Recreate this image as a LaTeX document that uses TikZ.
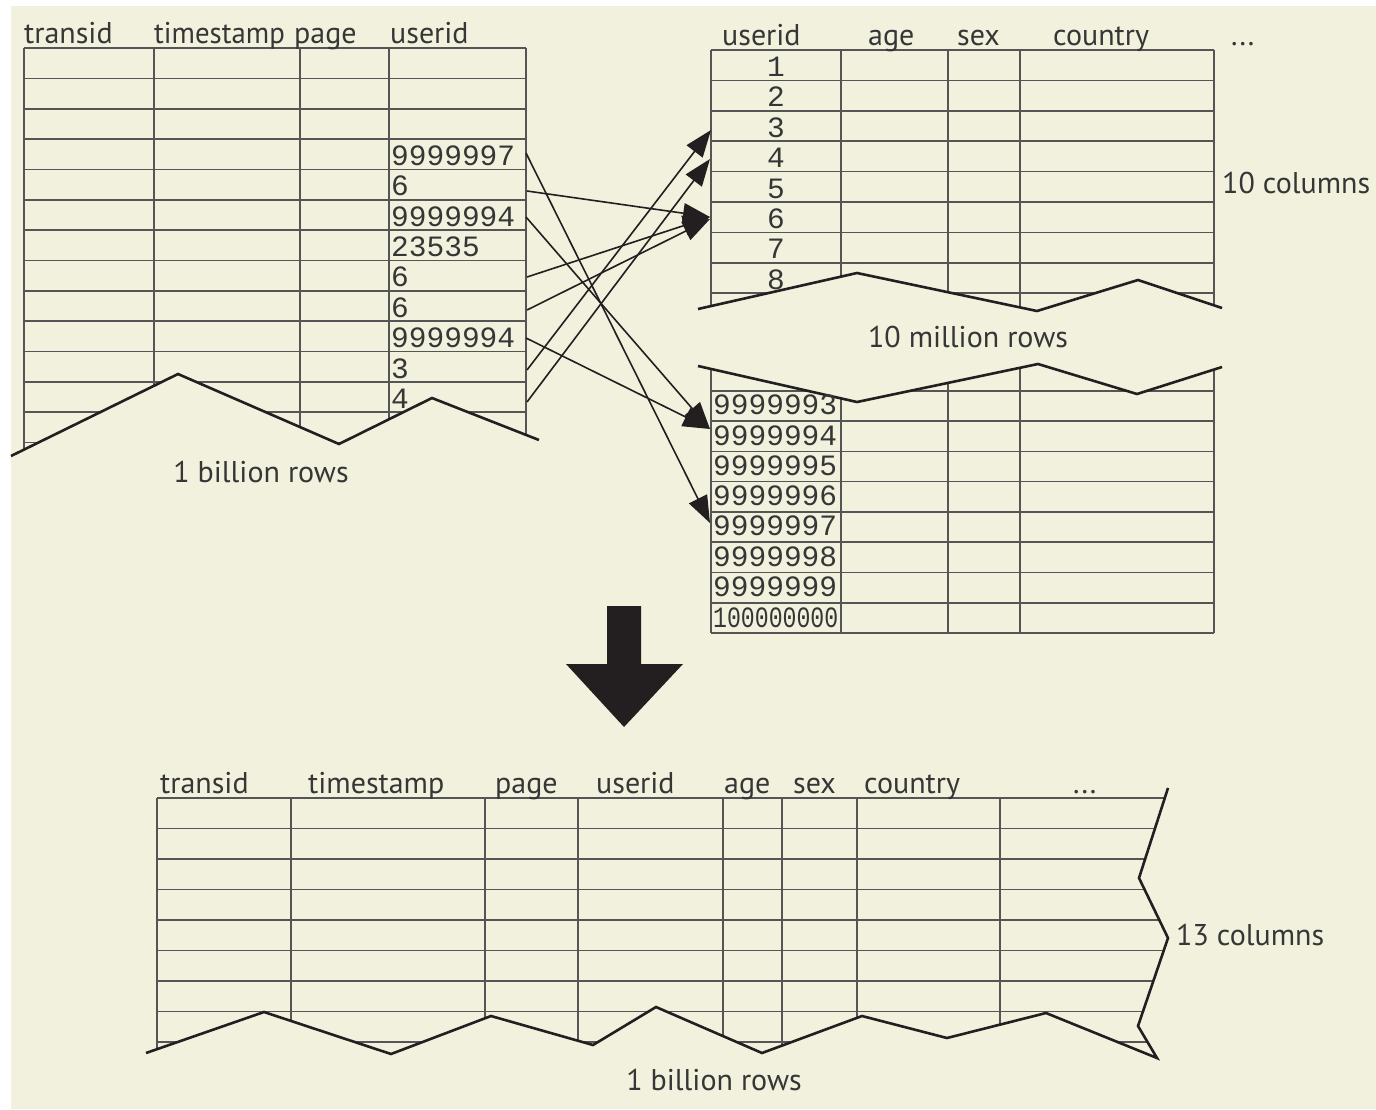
\documentclass[tikz,border=0pt]{standalone}
\usepackage{fontspec}
\usepackage{graphicx}
\setmainfont{PT Sans}
\setmonofont{Liberation Mono}
\usetikzlibrary{arrows.meta}
\definecolor{bg}{HTML}{F1F1DE}
\definecolor{gridc}{HTML}{555555}
\definecolor{ink}{HTML}{231F20}
\definecolor{txt}{HTML}{363636}
\begin{document}
\begin{tikzpicture}[x=1pt,y=-1pt,
  gridline/.style={draw=gridc, line width=1.6pt},
  edge/.style={draw=ink, line width=2.6pt, line join=miter},
  hdr/.style={anchor=base west, inner sep=0pt, text=txt, font=\fontsize{30}{30}\selectfont},
  lbl/.style={anchor=base, inner sep=0pt, text=txt, font=\fontsize{30}{30}\selectfont},
  numl/.style={anchor=base west, inner sep=0pt, text=txt, font=\fontsize{29.5}{30}\ttfamily},
  numc/.style={anchor=base, inner sep=0pt, text=txt, font=\fontsize{29.5}{30}\ttfamily},
  link/.style={draw=ink, line width=1.6pt, -{Triangle[length=27pt,width=20pt]}},
]
\useasboundingbox (0,0) rectangle (1376,1109);
\fill[white] (0,0) rectangle (1376,1109);
\fill[bg] (11,6) rectangle (1376,1109);

% ---------- top-left table ----------
\begin{scope}
\clip (0,0) -- (0,460) -- (11,456) -- (178,374) -- (339,444) -- (432,398) -- (539,440) -- (600,440) -- (600,0) -- cycle;
\foreach \k in {0,...,13} \draw[gridline] (24,48+30.35*\k) -- (526,48+30.35*\k);
\foreach \x in {24,154,300,389,526} \draw[gridline] (\x,48) -- (\x,470);
\end{scope}
\draw[edge] (11,456) -- (178,374) -- (339,444) -- (432,398) -- (539,440);
\node[hdr] (h1) at (24,43) {transid};
\node[hdr] (h2) at (154,43) {\scalebox{0.96}[1]{timestamp}};
\node[hdr] (h3) at (294,43) {page};
\node[hdr] (h4) at (390,43) {userid};
\foreach \k/\v in {3/9999997,4/6,5/9999994,6/23535,7/6,8/6,9/9999994,10/3,11/4}
  \node[numl] (tl\k) at (391,48+30.35*\k+26.5) {\v};
\node[lbl] (rows1) at (261,482) {1 billion rows};

% ---------- top-right table ----------
\begin{scope}
\clip (680,0) -- (680,309) -- (698,309) -- (857,273) -- (1037,311) -- (1138,280) -- (1222,308) -- (1240,308) -- (1240,0) -- cycle;
\foreach \k in {0,...,9} \draw[gridline] (711,50+30.4*\k) -- (1214,50+30.4*\k);
\foreach \x in {711,841,948,1020,1214} \draw[gridline] (\x,50) -- (\x,330);
\end{scope}
\draw[edge] (698,309) -- (857,273) -- (1037,311) -- (1138,280) -- (1222,308);
\node[hdr] (r1) at (722,45) {userid};
\node[hdr] (r2) at (868,45) {age};
\node[hdr] (r3) at (957,45) {sex};
\node[hdr] (r4) at (1053,45) {country};
\node[hdr] (r5) at (1231,45) {...};
\foreach \k in {1,...,8}
  \node[numc] (tr\k) at (776,50+30.4*\k-4) {\k};
\node[hdr] (cols10) at (1222,193) {10 columns};
\node[lbl] (rows10) at (968,347) {10 million rows};

% ---------- lower-right table ----------
\begin{scope}
\clip (680,366) -- (698,366) -- (857,402) -- (1038,364) -- (1137,394) -- (1222,367) -- (1240,360) -- (1240,700) -- (680,700) -- cycle;
\foreach \k in {0,...,9} \draw[gridline] (711,633-30.27*\k) -- (1214,633-30.27*\k);
\foreach \x in {711,841,948,1020,1214} \draw[gridline] (\x,330) -- (\x,633);
\end{scope}
\draw[edge] (698,366) -- (857,402) -- (1038,364) -- (1137,394) -- (1222,367);
\foreach \i/\v in {1/9999993,2/9999994,3/9999995,4/9999996,5/9999997,6/9999998,7/9999999}
  \node[numl] (lr\i) at (713,390.6+30.27*\i-6) {\v};
\node[numl] (lr8) at (713,633-6) {\scalebox{0.785}[1]{100000000}};

% ---------- connectors ----------
\coordinate (s1) at (526,153);
\coordinate (s2) at (527,191);
\coordinate (s3) at (526,217);
\coordinate (s4) at (527,277);
\coordinate (s5) at (527,310);
\coordinate (s6) at (526,338);
\coordinate (s7) at (527,370);
\coordinate (s8) at (527,402);
\coordinate (t97) at (710,523);
\coordinate (t6a) at (710,217);
\coordinate (t6b) at (710,219);
\coordinate (t94) at (710,429);
\coordinate (t3) at (711,130);
\coordinate (t4) at (710,159);
\draw[link] (s1) -- (t97);
\draw[link] (s2) -- (t6a);
\draw[link] (s3) -- (t94);
\draw[link] (s4) -- (t6a);
\draw[link] (s5) -- (t6b);
\draw[link] (s6) -- (t94);
\draw[link] (s7) -- (t3);
\draw[link] (s8) -- (t4);

% ---------- big arrow ----------
\fill[ink] (607,606) -- (641,606) -- (641,664) -- (683,664) -- (624,727) -- (566,664) -- (607,664) -- cycle;

% ---------- bottom table ----------
\begin{scope}
\clip (140,700) -- (1175,700) -- (1168,788) -- (1139,878) -- (1168,938) -- (1138,1026) -- (1157,1058) -- (1046,1013) -- (947,1038) -- (862,1016) -- (762,1053) -- (656,1007) -- (593,1045) -- (491,1016) -- (391,1054) -- (264,1012) -- (146,1053) -- (140,1053) -- cycle;
\foreach \k in {0,...,8} \draw[gridline] (157,798+30.5*\k) -- (1180,798+30.5*\k);
\foreach \x in {157,291,485,578,723,782,857,1000} \draw[gridline] (\x,798) -- (\x,1070);
\end{scope}
\draw[edge] (146,1053) -- (264,1012) -- (391,1054) -- (491,1016) -- (593,1045) -- (656,1007) -- (762,1053) -- (862,1016) -- (947,1038) -- (1046,1013) -- (1157,1058) -- (1138,1026) -- (1168,938) -- (1139,878) -- (1168,788);
\node[hdr] (b1) at (160,793) {transid};
\node[hdr] (b2) at (308,793) {timestamp};
\node[hdr] (b3) at (495,793) {page};
\node[hdr] (b4) at (596,793) {userid};
\node[hdr] (b5) at (724,793) {age};
\node[hdr] (b6) at (793,793) {sex};
\node[hdr] (b7) at (864,793) {country};
\node[hdr] (b8) at (1073,793) {...};
\node[hdr] (cols13) at (1176,945) {13 columns};
\node[lbl] (rows1b) at (714,1090) {1 billion rows};
\end{tikzpicture}
\end{document}
